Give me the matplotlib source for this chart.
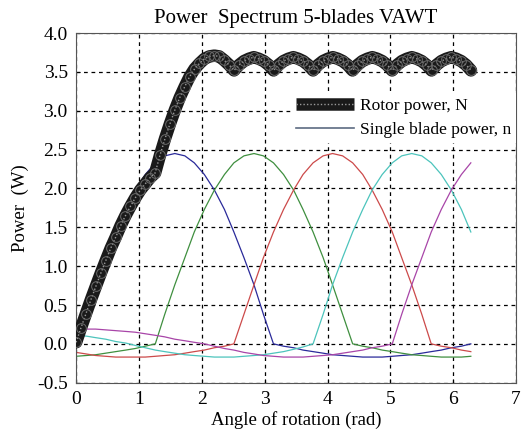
import numpy as np
import matplotlib
matplotlib.use('Agg')
import matplotlib.pyplot as plt
from matplotlib.lines import Line2D

plt.rcParams['font.family'] = ['Liberation Serif', 'DejaVu Serif']

# blade angle grid (rad), step pi/20
theta = [0.00, 0.16, 0.31, 0.47, 0.63, 0.79, 0.94, 1.10, 1.26, 1.41,
         1.57, 1.73, 1.88, 2.04, 2.20, 2.36, 2.51, 2.67, 2.83, 2.98,
         3.14, 3.30, 3.46, 3.61, 3.77, 3.93, 4.08, 4.24, 4.40, 4.56,
         4.71, 4.87, 5.03, 5.18, 5.34, 5.50, 5.65, 5.81, 5.97, 6.13, 6.28]

blade1 = [0.00, 0.38, 0.76, 1.11, 1.44, 1.73, 1.98, 2.18, 2.33, 2.42,
          2.45, 2.42, 2.33, 2.18, 1.98, 1.73, 1.44, 1.11, 0.76, 0.38,
          0.00, -0.03, -0.05, -0.08, -0.10, -0.12, -0.14, -0.15, -0.16, -0.17,
          -0.17, -0.17, -0.16, -0.15, -0.14, -0.12, -0.10, -0.08, -0.05, -0.03, 0.00]
blade2 = [-0.16, -0.15, -0.14, -0.12, -0.10, -0.08, -0.06, -0.03, 0.00, 0.38,
          0.76, 1.11, 1.44, 1.73, 1.98, 2.18, 2.33, 2.42, 2.45, 2.42,
          2.33, 2.18, 1.98, 1.73, 1.44, 1.11, 0.76, 0.38, 0.00, -0.03,
          -0.05, -0.08, -0.10, -0.12, -0.14, -0.15, -0.16, -0.17, -0.17, -0.17, -0.16]
blade3 = [-0.11, -0.13, -0.15, -0.16, -0.17, -0.17, -0.17, -0.17, -0.16, -0.15,
          -0.14, -0.12, -0.10, -0.08, -0.05, -0.03, 0.00, 0.38, 0.76, 1.11,
          1.44, 1.73, 1.98, 2.18, 2.33, 2.42, 2.45, 2.42, 2.33, 2.18,
          1.98, 1.73, 1.44, 1.11, 0.76, 0.38, 0.00, -0.03, -0.05, -0.08, -0.10]
blade4 = [0.11, 0.10, 0.08, 0.06, 0.03, 0.01, -0.02, -0.05, -0.08, -0.10,
          -0.12, -0.14, -0.15, -0.16, -0.17, -0.17, -0.17, -0.16, -0.15, -0.14,
          -0.12, -0.10, -0.07, -0.04, 0.00, 0.38, 0.76, 1.11, 1.44, 1.73,
          1.98, 2.18, 2.33, 2.42, 2.45, 2.42, 2.33, 2.18, 1.98, 1.73, 1.44]
blade5 = [0.19, 0.19, 0.19, 0.18, 0.17, 0.16, 0.15, 0.13, 0.11, 0.09,
          0.06, 0.04, 0.02, 0.00, -0.03, -0.06, -0.08, -0.11, -0.13, -0.15,
          -0.16, -0.17, -0.17, -0.17, -0.16, -0.15, -0.14, -0.12, -0.10, -0.08,
          -0.05, -0.03, 0.00, 0.38, 0.76, 1.11, 1.44, 1.73, 1.98, 2.18, 2.33]

blades = [blade1, blade2, blade3, blade4, blade5]
blade_colors = ['#2a2a9a', '#3f8f3f', '#cc4a4a', '#4cc4bc', '#a845a8']

# rotor power, step pi/40
theta_r = [0.000, 0.079, 0.157, 0.236, 0.314, 0.393, 0.471, 0.550, 0.628, 0.707,
           0.785, 0.864, 0.942, 1.021, 1.100, 1.178, 1.257, 1.335, 1.414, 1.492,
           1.571, 1.649, 1.728, 1.806, 1.885, 1.963, 2.042, 2.120, 2.199, 2.277,
           2.356, 2.435, 2.513, 2.592, 2.670, 2.749, 2.827, 2.906, 2.985, 3.063,
           3.142, 3.220, 3.299, 3.377, 3.456, 3.534, 3.613, 3.691, 3.770, 3.848,
           3.927, 4.006, 4.084, 4.163, 4.241, 4.320, 4.398, 4.477, 4.555, 4.634,
           4.712, 4.791, 4.869, 4.948, 5.027, 5.105, 5.184, 5.262, 5.341, 5.419,
           5.498, 5.576, 5.655, 5.733, 5.812, 5.890, 5.969, 6.048, 6.126, 6.205, 6.283]
rotor = [0.02, 0.21, 0.39, 0.57, 0.74, 0.91, 1.07, 1.23, 1.37, 1.52,
         1.65, 1.77, 1.88, 1.98, 2.06, 2.14, 2.20, 2.43, 2.64, 2.83,
         3.01, 3.17, 3.31, 3.44, 3.54, 3.61, 3.67, 3.70, 3.71, 3.70,
         3.65, 3.59, 3.52, 3.59, 3.64, 3.67, 3.69, 3.67, 3.64, 3.59,
         3.52, 3.59, 3.64, 3.67, 3.69, 3.67, 3.64, 3.59, 3.52, 3.59,
         3.64, 3.67, 3.69, 3.67, 3.64, 3.59, 3.52, 3.59, 3.64, 3.67,
         3.69, 3.67, 3.64, 3.59, 3.52, 3.59, 3.64, 3.67, 3.69, 3.67,
         3.64, 3.59, 3.52, 3.59, 3.64, 3.67, 3.69, 3.67, 3.64, 3.59, 3.52]

fig = plt.figure(figsize=(5.25, 4.3), dpi=100)
ax = fig.add_axes([0.145, 0.110, 0.838, 0.813])

# rotor drawn as a dense band of circles
ax.plot(theta_r, rotor, color='#1a1a1a', lw=9, solid_capstyle='round', zorder=3)
ax.plot(theta_r, rotor, color='#9a9a9a', lw=1.0, ls=(0, (1, 1.5)), zorder=4)
ax.plot(theta_r, rotor, 'o', ms=7, mfc='none', mec='#6a6a6a', mew=0.7, zorder=5)
for b, c in zip(blades, blade_colors):
    ax.plot(theta, b, color=c, lw=0.9, zorder=2)

ax.set_xlim(0, 7)
ax.set_ylim(-0.5, 4.0)
ax.set_xticks(range(0, 8))
yt = np.arange(-0.5, 4.01, 0.5)
ax.set_yticks(yt)
ax.set_yticklabels(['%.1f' % v for v in yt])
ax.tick_params(direction='in', length=3, labelsize=14, pad=6)
ax.grid(True, color='black', linestyle=(0, (3, 3)), lw=0.9)
for s in ax.spines.values():
    s.set_color('#555555')

ax.set_title('Power  Spectrum 5-blades VAWT', fontsize=15, pad=7)
ax.set_xlabel('Angle of rotation (rad)', fontsize=13.5, labelpad=2)
ax.set_ylabel('Power  (W)', fontsize=13.5, labelpad=6)

h_band = Line2D([], [], color='#1a1a1a', lw=9, solid_capstyle='butt')
h_dots = Line2D([], [], color='#9a9a9a', lw=1.0, ls=(0, (1, 1.5)))
h_blade = Line2D([], [], color='#5c6b82', lw=1.2)
leg = ax.legend([(h_band, h_dots), h_blade],
                ['Rotor power, N', 'Single blade power, n'],
                loc='upper right', bbox_to_anchor=(1.0, 0.83), fontsize=12.5,
                handlelength=3.3, handletextpad=0.35,
                labelspacing=0.45, borderpad=0.3, borderaxespad=0.0,
                frameon=True, fancybox=False)
leg.get_frame().set_edgecolor('none')
leg.get_frame().set_facecolor('white')
leg.get_frame().set_alpha(1)

fig.savefig('out.png', dpi=100)
